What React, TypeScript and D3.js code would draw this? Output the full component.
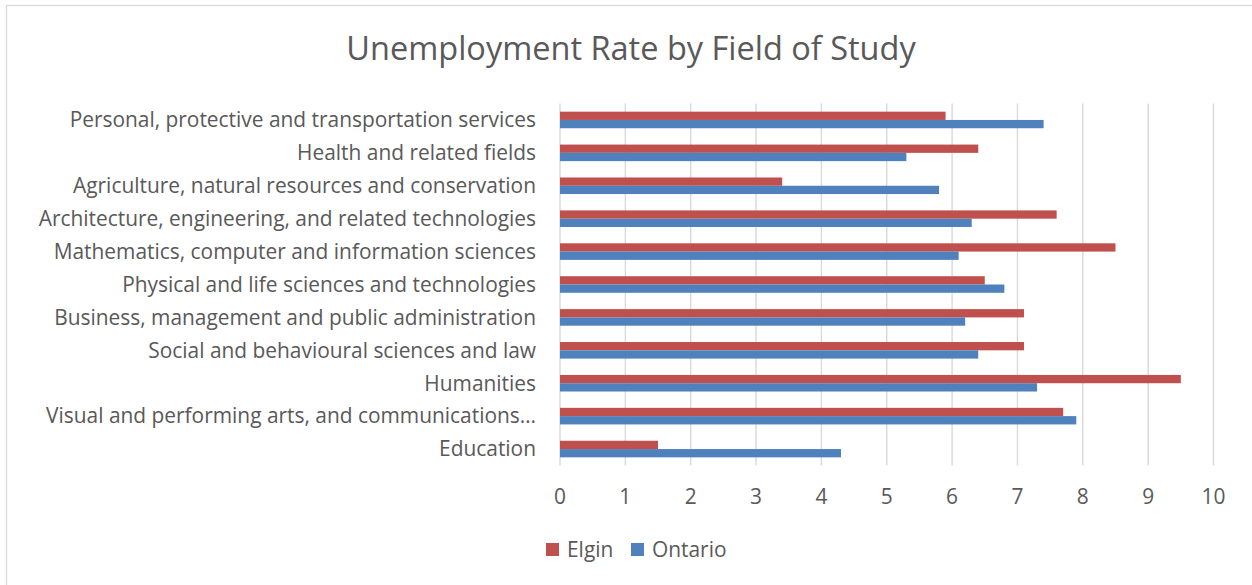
import React from "react";
import * as d3 from "d3";

const categories = [
  "Personal, protective and transportation services",
  "Health and related fields",
  "Agriculture, natural resources and conservation",
  "Architecture, engineering, and related technologies",
  "Mathematics, computer and information sciences",
  "Physical and life sciences and technologies",
  "Business, management and public administration",
  "Social and behavioural sciences and law",
  "Humanities",
  "Visual and performing arts, and communications…",
  "Education",
];
const elgin = [5.9, 6.4, 3.4, 7.6, 8.5, 6.5, 7.1, 7.1, 9.5, 7.7, 1.5];
const ontario = [7.4, 5.3, 5.8, 6.3, 6.1, 6.8, 6.2, 6.4, 7.3, 7.9, 4.3];
const xTicks = [0, 1, 2, 3, 4, 5, 6, 7, 8, 9, 10];
const seriesNames = ["Elgin", "Ontario"];
const seriesColors = ["#C0504D", "#4F81BD"];

const W = 1252;
const H = 585;
const FONT = "'Open Sans', sans-serif";
const TXT = "#595959";

export default function App() {
  const left = 560;
  const right = 1213.5;
  const top = 103.5;
  const bottom = 465.5;
  const x = d3.scaleLinear().domain([0, 10]).range([left, right]);
  const y = d3.scaleBand<string>().domain(categories).range([top, bottom]).paddingInner(0).paddingOuter(0);
  const step = y.bandwidth();
  const barH = step / 3.97;
  const series = [elgin, ontario];

  return (
    <svg width={W} height={H} style={{ position: "absolute", left: 0, top: 0, background: "#fff" }}>
      <rect x={0} y={0} width={W} height={H} fill="#fff" />
      <rect x={6.5} y={5.5} width={W + 20} height={H + 20} fill="none" stroke="#d9d9d9" strokeWidth={1.3} />
      <text x={631} y={60} textAnchor="middle" fontFamily={FONT} fontSize={32.5} fill={TXT}>
        Unemployment Rate by Field of Study
      </text>
      {xTicks.map((t) => (
        <line key={"g" + t} x1={x(t)} x2={x(t)} y1={top} y2={bottom} stroke="#d9d9d9" strokeWidth={1.4} />
      ))}
      {categories.map((c, i) => {
        const cy = (y(c) as number) + step / 2;
        return (
          <g key={c}>
            {series.map((s, k) => (
              <rect
                key={k}
                x={x(0)}
                y={cy - barH + k * barH}
                width={x(s[i]) - x(0)}
                height={barH}
                fill={seriesColors[k]}
              />
            ))}
            <text x={536} y={cy} dy="0.35em" textAnchor="end" fontFamily={FONT} fontSize={20.9} fill={TXT}>
              {c}
            </text>
          </g>
        );
      })}
      {xTicks.map((t) => (
        <text key={"t" + t} x={x(t)} y={497} dy="0.35em" textAnchor="middle" fontFamily={FONT} fontSize={20.9} fill={TXT}>
          {t}
        </text>
      ))}
      {seriesNames.map((n, k) => {
        const lx = [546, 631][k];
        return (
          <g key={n}>
            <rect x={lx} y={543} width={13} height={13} fill={seriesColors[k]} />
            <text x={lx + 21} y={549.5} dy="0.35em" fontFamily={FONT} fontSize={20.9} fill={TXT}>
              {n}
            </text>
          </g>
        );
      })}
    </svg>
  );
}
